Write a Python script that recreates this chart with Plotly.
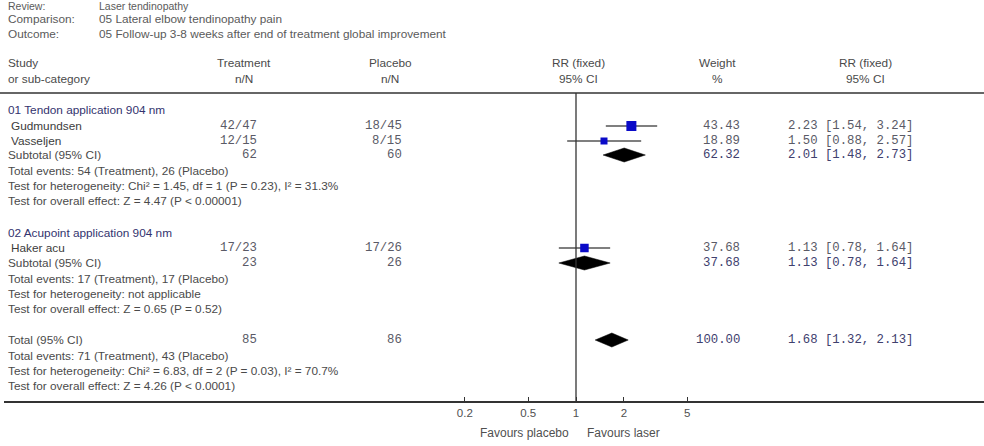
import plotly.graph_objects as go

# ---------------- data ----------------
header_keys = ["Review:", "Comparison:", "Outcome:"]
header_vals = ["Laser tendinopathy", "05 Lateral elbow tendinopathy pain",
               "05 Follow-up 3-8 weeks after end of treatment global improvement"]

group_titles = ["01 Tendon application 904 nm", "02 Acupoint application 904 nm"]

studies = ["Gudmundsen", "Vasseljen", "Haker acu"]
treat_nN = ["42/47", "12/15", "17/23"]
placebo_nN = ["18/45", "8/15", "17/26"]
study_rr = [2.23, 1.50, 1.13]
study_lo = [1.54, 0.88, 0.78]
study_hi = [3.24, 2.57, 1.64]
study_weight = [43.43, 18.89, 37.68]

pooled_labels = ["Subtotal (95% CI)", "Subtotal (95% CI)", "Total (95% CI)"]
pooled_treat_N = [62, 23, 85]
pooled_placebo_N = [60, 26, 86]
pooled_rr = [2.01, 1.13, 1.68]
pooled_lo = [1.48, 0.78, 1.32]
pooled_hi = [2.73, 1.64, 2.13]
pooled_weight = [62.32, 37.68, 100.00]
pooled_notes = [
    ["Total events: 54 (Treatment), 26 (Placebo)",
     "Test for heterogeneity: Chi² = 1.45, df = 1 (P = 0.23), I² = 31.3%",
     "Test for overall effect: Z = 4.47 (P < 0.00001)"],
    ["Total events: 17 (Treatment), 17 (Placebo)",
     "Test for heterogeneity: not applicable",
     "Test for overall effect: Z = 0.65 (P = 0.52)"],
    ["Total events: 71 (Treatment), 43 (Placebo)",
     "Test for heterogeneity: Chi² = 6.83, df = 2 (P = 0.03), I² = 70.7%",
     "Test for overall effect: Z = 4.26 (P < 0.0001)"],
]

tick_vals = [0.2, 0.5, 1, 2, 5]
tick_text = ["0.2", "0.5", "1", "2", "5"]
favours = ["Favours placebo", "Favours laser"]

# ---------------- layout / style ----------------
W, H = 984, 446
SANS = "Liberation Sans, Arial, sans-serif"
MONO = "Liberation Mono, Courier New, monospace"
FS = 11.8
MS = 12.3
TXT = "#4a4a4a"
NAVY = "#33336e"
NUM = "#5a5a66"
NUMP = "#40406e"

header_y = [6.3, 19.3, 33.8]
header_fs = [10.5, FS, FS]
group_title_y = [110, 233]
study_y = [126, 141, 248]
pooled_y = [155, 263, 340]
note_dy = [15.5, 31, 46]
marker_sizes = [10, 7, 8.5]

X_TREAT = 258
X_PLAC = 403
X_WEIGHT = 741
X_CI = 787

fig = go.Figure()
ann = []


def px(x):
    return x / W


def add_text(x, y, text, anchor="left", font=SANS, size=FS, color=TXT):
    ann.append(dict(x=px(x), y=y, xref="paper", yref="y", text=text,
                    showarrow=False, xanchor=anchor, yanchor="middle",
                    font=dict(family=font, size=size, color=color), borderpad=0))


# header block
for k, v, yy, fs in zip(header_keys, header_vals, header_y, header_fs):
    add_text(7, yy, k, size=fs, color="#5a5a5a")
    add_text(98, yy, v, size=fs, color="#5a5a5a")

add_text(7, 63, "Study")
add_text(7, 79, "or sub-category")
add_text(244, 63, "Treatment", "center")
add_text(244, 79, "n/N", "center")
add_text(390, 63, "Placebo", "center")
add_text(390, 79, "n/N", "center")
add_text(578, 63, "RR (fixed)", "center")
add_text(578, 79, "95% CI", "center")
add_text(717, 63, "Weight", "center")
add_text(717, 79, "%", "center")
add_text(865, 63, "RR (fixed)", "center")
add_text(865, 79, "95% CI", "center")

for t, yy in zip(group_titles, group_title_y):
    add_text(7, yy, t, color=NAVY)

# studies
for i, s in enumerate(studies):
    yy = study_y[i]
    add_text(10, yy, s, color="#3c3c3c")
    add_text(X_TREAT, yy, treat_nN[i], "right", MONO, MS, NUM)
    add_text(X_PLAC, yy, placebo_nN[i], "right", MONO, MS, NUM)
    add_text(X_WEIGHT, yy, f"{study_weight[i]:.2f}", "right", MONO, MS, NUM)
    add_text(X_CI, yy, f"{study_rr[i]:.2f} [{study_lo[i]:.2f}, {study_hi[i]:.2f}]",
             "left", MONO, MS, NUM)
    fig.add_trace(go.Scatter(x=[study_lo[i], study_hi[i]], y=[yy, yy], mode="lines",
                             line=dict(color="#555555", width=1.3),
                             showlegend=False, hoverinfo="skip"))
    fig.add_trace(go.Scatter(x=[study_rr[i]], y=[yy], mode="markers",
                             marker=dict(symbol="square", size=marker_sizes[i],
                                         color="#0a0ac8", line=dict(width=0)),
                             showlegend=False, hoverinfo="skip"))

# pooled rows
for i, lab in enumerate(pooled_labels):
    yy = pooled_y[i]
    add_text(7, yy, lab)
    add_text(X_TREAT, yy, str(pooled_treat_N[i]), "right", MONO, MS, NUM)
    add_text(X_PLAC, yy, str(pooled_placebo_N[i]), "right", MONO, MS, NUM)
    add_text(X_WEIGHT, yy, f"{pooled_weight[i]:.2f}", "right", MONO, MS, NUMP)
    add_text(X_CI, yy, f"{pooled_rr[i]:.2f} [{pooled_lo[i]:.2f}, {pooled_hi[i]:.2f}]",
             "left", MONO, MS, NUMP)
    for n, d in zip(pooled_notes[i], note_dy):
        add_text(7, yy + d, n)
    hh = 7
    fig.add_trace(go.Scatter(
        x=[pooled_lo[i], pooled_rr[i], pooled_hi[i], pooled_rr[i], pooled_lo[i]],
        y=[yy, yy - hh, yy, yy + hh, yy], mode="lines", fill="toself",
        fillcolor="#000000", line=dict(color="#000000", width=0.5),
        showlegend=False, hoverinfo="skip"))

AXIS_Y = 402
add_text(524, 433, favours[0], "center", size=12, color="#505050")
add_text(623, 433, favours[1], "center", size=12, color="#505050")

shapes = [
    dict(type="line", xref="paper", yref="y", x0=0, x1=1, y0=93, y1=93,
         line=dict(color="#666666", width=2)),
    dict(type="line", xref="x", yref="y", x0=1, x1=1, y0=93, y1=AXIS_Y,
         line=dict(color="#333333", width=1.3)),
]

dom0 = 4 / W
fig.update_layout(
    width=W, height=H, margin=dict(l=0, r=0, t=0, b=0),
    paper_bgcolor="white", plot_bgcolor="rgba(0,0,0,0)",
    showlegend=False, annotations=ann, shapes=shapes,
    xaxis=dict(type="log", domain=[dom0, 1],
               range=[(4 - 576) / 159, (W - 576) / 159],
               anchor="free", position=(H - AXIS_Y) / H,
               showline=True, linecolor="#333333", linewidth=2,
               ticks="inside", ticklen=4, tickcolor="#333333", tickwidth=1,
               tickvals=tick_vals, ticktext=tick_text,
               tickfont=dict(family=SANS, size=11.5, color="#505050"),
               showgrid=False, zeroline=False, fixedrange=True),
    yaxis=dict(range=[H, 0], domain=[0, 1], visible=False, showgrid=False,
               zeroline=False, fixedrange=True),
)

fig.write_html("out.html")
